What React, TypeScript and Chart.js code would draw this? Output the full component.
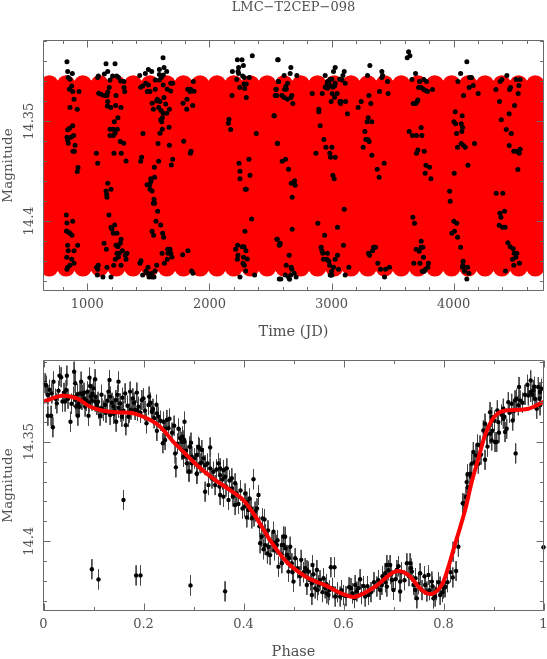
import React, { useEffect, useRef } from "react";
import { Chart, registerables } from "chart.js";

Chart.register(...registerables);

const chartTitle = "LMC\u2212T2CEP\u2212098";

// Upper panel: photometry against time, one pair of arrays per observing season
const season1Time = [833,839,877,844,858,872,853,880,932,891,858,918,880,855,839,888,866,833,839,844,899,883,894,924,918,828,833,880,828,844,858,874,839,921,844,891,831,872,891,858,839,833];
const season1Mag = [14.3201,14.3251,14.3261,14.3281,14.3289,14.3323,14.334,14.3351,14.3351,14.339,14.3431,14.344,14.3522,14.3535,14.3543,14.3572,14.358,14.358,14.3594,14.361,14.362,14.365,14.365,14.3732,14.3752,14.397,14.401,14.4002,14.405,14.4055,14.4062,14.4072,14.4122,14.4122,14.415,14.415,14.4182,14.4192,14.4212,14.4222,14.4232,14.4242];

const season2Time = [1153,1227,1167,1139,1090,1085,1186,1207,1240,1254,1273,1300,1300,1306,1180,1167,1093,1112,1139,1161,1235,1167,1164,1191,1232,1276,1251,1221,1186,1213,1246,1186,1213,1227,1270,1298,1074,1218,1278,1317,1085,1167,1153,1194,1158,1161,1177,1224,1194,1202,1213,1243,1276,1270,1137,1156,1235,1251,1287,1243,1262,1325,1311,1254,1229,1317,1216,1276,1161,1090,1076,1085,1082,1128,1194];
const season2Mag = [14.3211,14.3211,14.3251,14.3263,14.3273,14.3281,14.3293,14.3273,14.3273,14.3279,14.3298,14.3301,14.3331,14.3351,14.3331,14.3355,14.336,14.3365,14.3371,14.3371,14.3371,14.3401,14.3423,14.3431,14.3421,14.3431,14.3482,14.3502,14.354,14.354,14.354,14.3572,14.3572,14.356,14.3602,14.361,14.366,14.366,14.366,14.37,14.3711,14.3811,14.385,14.3841,14.3866,14.3881,14.397,14.402,14.4032,14.4042,14.4062,14.4062,14.4092,14.4112,14.4112,14.4142,14.4122,14.413,14.415,14.4162,14.4162,14.4162,14.4172,14.4181,14.4192,14.4192,14.4222,14.4222,14.4232,14.4222,14.4232,14.4242,14.4271,14.4281,14.4281];

const season3Time = [1620,1628,1590,1650,1527,1500,1475,1429,1590,1622,1606,1557,1590,1500,1478,1437,1453,1491,1513,1557,1622,1683,1699,1655,1683,1573,1568,1628,1595,1530,1642,1541,1584,1603,1672,1650,1622,1601,1614,1609,1669,1614,1595,1456,1579,1672,1445,1437,1584,1699,1688,1549,1551,1519,1489,1511,1521,1513,1530,1546,1551,1541,1576,1562,1601,1530,1543,1617,1625,1612,1658,1677,1661,1683,1693,1655,1631,1568,1440,1431,1497,1480,1491,1554,1527,1453,1505,1530,1546,1513];
const season3Mag = [14.3181,14.3231,14.3241,14.3251,14.3251,14.3241,14.3261,14.3271,14.3266,14.3268,14.3281,14.3293,14.3293,14.3318,14.3309,14.3329,14.3323,14.3351,14.3351,14.334,14.3318,14.3309,14.3309,14.334,14.3348,14.339,14.3398,14.3381,14.3401,14.341,14.3413,14.344,14.3431,14.3446,14.344,14.346,14.346,14.3493,14.3482,14.3502,14.353,14.354,14.356,14.3562,14.3612,14.362,14.3681,14.3701,14.3701,14.3691,14.3719,14.3731,14.3781,14.3789,14.3819,14.3819,14.3802,14.3841,14.385,14.3891,14.3911,14.3911,14.3952,14.4002,14.402,14.4052,14.4072,14.4062,14.4082,14.4162,14.4142,14.4142,14.4162,14.4162,14.4181,14.4192,14.4212,14.4222,14.42,14.4212,14.4232,14.4251,14.4261,14.4251,14.4264,14.4271,14.4281,14.4281,14.4281,14.4271];

const season4Time = [1868,1846,1822,1874,1841,1816,1784,1863,1814,1789,1849,1844,1855,1865,1781,1824];
const season4Mag = [14.3301,14.334,14.334,14.335,14.3351,14.339,14.341,14.3421,14.344,14.36,14.365,14.366,14.4251,14.4262,14.417,14.415];

const season5Time = [2160,2155,2174,2384,2556,2529,2185,2248,2229,2267,2278,2239,2188,2234,2239,2272,2286,2327,2223,2283,2302,2289,2302,2545,2551,2564,2559,2351,2242,2324,2250,2332,2250,2294,2302,2346,2291,2231,2215,2269,2283,2299,2234,2229,2280,2310,2275,2286,2297,2250,2370,2553,2572,2572];
const season5Mag = [14.349,14.351,14.3542,14.3562,14.361,14.3472,14.3371,14.3331,14.3192,14.3192,14.3221,14.3231,14.3251,14.3251,14.3261,14.3273,14.3281,14.3281,14.3291,14.3313,14.3313,14.3336,14.3381,14.334,14.3371,14.3301,14.3192,14.3171,14.3711,14.3691,14.3751,14.3771,14.3789,14.3841,14.3841,14.399,14.4052,14.4122,14.4142,14.413,14.413,14.415,14.4172,14.4192,14.4182,14.4191,14.4212,14.4222,14.4251,14.4281,14.4271,14.4092,14.412,14.4291];

const season6Time = [2563,2667,2661,2612,2566,2716,2640,2626,2615,2547,2629,2539,2593,2612,2640,2675,2667,2683,2530,2558,2596,2623,2648,2697,2670,2702,2678,2678,2555,2580,2574,2653,2629,2670,2675,2621,2694,2667,2648,2656,2585,2710];
const season6Mag = [14.3191,14.3231,14.3261,14.3271,14.3301,14.3271,14.3309,14.3326,14.334,14.334,14.334,14.3371,14.3371,14.3381,14.339,14.3371,14.3381,14.3411,14.3472,14.3612,14.3701,14.3691,14.3741,14.3799,14.3811,14.3821,14.3881,14.4042,14.4092,14.4112,14.4122,14.4172,14.4222,14.4232,14.4242,14.4271,14.4262,14.4271,14.4283,14.4293,14.4291,14.4281];

const season7Time = [2842,2924,2896,2896,2907,2937,2954,3003,2872,2986,2992,3030,3011,3022,3030,3016,3104,2948,3093,3066,3085,2989,3003,2967,2978,2962,2989,2948,2967,3030,3025,3011,3112,3005,3046,3025,2997,3068,3079,3115,3074,3131,2888,2943,3049,3104,3098,2915,2921,2929,2967,3049,2934,2962,2978,3030,2984,3016,3057,3142,3000,2995,2989,3003,3112];
const season7Mag = [14.3361,14.3361,14.344,14.3452,14.3522,14.3592,14.363,14.363,14.366,14.366,14.3681,14.3681,14.3771,14.3789,14.3231,14.3251,14.3251,14.3271,14.3271,14.3289,14.3293,14.3289,14.3289,14.3301,14.3309,14.3318,14.3323,14.3329,14.3334,14.3309,14.3323,14.3329,14.3309,14.3361,14.3361,14.338,14.3401,14.3401,14.3401,14.3401,14.3411,14.3462,14.4012,14.4072,14.4032,14.3941,14.4122,14.4132,14.415,14.4162,14.4162,14.4172,14.4192,14.4192,14.4202,14.4192,14.4222,14.4232,14.4242,14.4232,14.4252,14.4271,14.4271,14.4271,14.4271];

const season8Time = [3218,3243,3306,3322,3393,3464,3295,3314,3412,3418,3412,3459,3300,3292,3330,3273,3281,3298,3308,3259,3330,3374,3431,3390,3303,3311,3336,3344,3360,3379,3401,3442,3475,3434];
const season8Mag = [14.3431,14.3401,14.3371,14.3411,14.3351,14.3361,14.3271,14.3221,14.3251,14.3271,14.3281,14.3301,14.3482,14.3502,14.3502,14.3552,14.3592,14.3592,14.3602,14.363,14.3671,14.3741,14.3711,14.3781,14.4162,14.4172,14.415,14.4132,14.4132,14.4212,14.4242,14.4242,14.4232,14.4281];

const season9Time = [3631,3642,3620,3688,3658,3721,3756,3778,3713,3734,3753,3770,3786,3827,3669,3691,3707,3702,3734,3636,3663,3696,3740,3707,3759,3696,3773,3803,3767,3814,3666,3680,3734,3693,3718,3734,3748,3753,3674,3724,3794,3789,3770,3759,3743];
const season9Mag = [14.3151,14.3171,14.3181,14.3261,14.3291,14.3301,14.3291,14.3301,14.3331,14.3331,14.334,14.3346,14.3351,14.3341,14.3411,14.3411,14.3393,14.3401,14.3532,14.3552,14.3572,14.3572,14.3572,14.3644,14.365,14.366,14.3721,14.3731,14.3761,14.3789,14.3982,14.4012,14.4102,14.4142,14.4152,14.4132,14.4132,14.4182,14.4212,14.4212,14.4212,14.4232,14.4242,14.4252,14.4252];

const season10Time = [4108,4057,4130,4147,4035,4127,4160,4081,4201,4013,4070,4002,4016,4062,4073,4067,4024,4062,4081,4095,4171,4032,4117,4005,4002,4026,4007,3986,3967,3972,4032,4057,4078,4076,4073,4089,4114,4125,4108];
const season10Mag = [14.3201,14.3261,14.3281,14.3281,14.3301,14.3331,14.3321,14.3371,14.3361,14.3452,14.3472,14.3502,14.3512,14.3512,14.3532,14.3552,14.3562,14.3612,14.3622,14.363,14.3612,14.363,14.3721,14.3761,14.4002,14.4012,14.4052,14.4062,14.3851,14.3901,14.4082,14.4132,14.4202,14.4222,14.4232,14.4252,14.4232,14.4262,14.4291];

const season11Time = [4436,4395,4381,4346,4466,4458,4512,4545,4534,4529,4376,4499,4455,4390,4431,4472,4455,4493,4510,4545,4537,4526,4349,4403,4379,4417,4387,4373,4401,4422,4444,4463,4488,4496,4518,4510,4482,4539,4493,4425];
const season11Mag = [14.3271,14.3291,14.3301,14.3341,14.3331,14.3341,14.3291,14.3291,14.3321,14.3361,14.3401,14.3421,14.3462,14.3492,14.3542,14.3562,14.3622,14.365,14.365,14.364,14.366,14.3742,14.3861,14.3861,14.3962,14.3952,14.3982,14.4022,14.4032,14.4032,14.411,14.413,14.414,14.4162,14.4162,14.4182,14.4192,14.4212,14.4222,14.4251];

const timeValues = [season1Time,season2Time,season3Time,season4Time,season5Time,season6Time,season7Time,season8Time,season9Time,season10Time,season11Time].flat();
const timeMags = [season1Mag,season2Mag,season3Mag,season4Mag,season5Mag,season6Mag,season7Mag,season8Mag,season9Mag,season10Mag,season11Mag].flat();

// Upper panel: the model band, as it reads off the picture
const bandTimes = [689,826,964,1101,1238,1375,1513,1650,1787,1924,2062,2199,2336,2473,2611,2748,2885,3022,3160,3297,3434,3571,3708,3846,3983,4120,4257,4395,4532,4669];
const bandBrightMag = 14.3314;
const bandFaintMag = 14.4234;

// Lower panel: folded photometry, by phase range
const foldAPhase = [.0053,.0033,.0087,.0087,.0153,.0187,.02,.0167,.0267,.032,.0353,.038,.0433,.0467,.0453,.054,.0613,.0633,.0687,.0653,.0733,.0753,.0767,.0833,.088,.09,.092,.0933,.0947,.1,.1033,.1033,.1067,.1133,.1167,.13,.132,.1333,.1333,.14,.1453,.1447,.15,.1533,.1567,.1633,.1647,.17,.1733,.1787,.1833,.1867,.1967,.2,.206,.21,.2113,.2167,.2213,.2267,.2267,.23,.24,.2387,.2413,.2467,.25,.2433,.2613,.2633,.2647,.2733,.2767,.282,.2813,.2867,.292,.2907,.2967,.3067,.312,.06,.068,.07,.078,.082,.086,.097,.11,.12,.125,.14,.15,.16,.175,.19];
const foldAMag = [14.3219,14.3207,14.3266,14.337,14.337,14.3428,14.3199,14.3258,14.3308,14.3169,14.3177,14.3299,14.3299,14.3169,14.3241,14.34,14.3149,14.3207,14.337,14.3324,14.3258,14.3199,14.3291,14.3324,14.3249,14.337,14.3179,14.3221,14.3274,14.3233,14.3187,14.3299,14.3316,14.337,14.3333,14.3249,14.3191,14.3274,14.3366,14.3324,14.34,14.3291,14.3199,14.3308,14.3375,14.3258,14.3418,14.3375,14.3249,14.3283,14.3341,14.3254,14.3291,14.3283,14.3408,14.3316,14.3274,14.335,14.3383,14.3358,14.3446,14.3375,14.34,14.3508,14.3441,14.3391,14.3433,14.3492,14.342,14.3559,14.3629,14.3483,14.3542,14.34,14.35,14.3575,14.3525,14.365,14.3609,14.3662,14.3533,14.3275,14.3262,14.331,14.3265,14.3285,14.3295,14.3295,14.3335,14.3345,14.3355,14.336,14.333,14.3345,14.334,14.3325];

const foldBPhase = [.2766,.2813,.2933,.28,.2866,.292,.2966,.3066,.31,.3166,.3133,.32,.3233,.3066,.3333,.3233,.33,.3333,.34,.3433,.35,.3533,.3533,.36,.3633,.3666,.36,.3533,.37,.3766,.3766,.3833,.3866,.3833,.39,.4033,.4066,.42,.43,.41,.4066,.4233,.4166,.442,.4366,.4333,.4433,.45,.4533,.46,.4633,.4833,.48,.4866,.4479,.44];
const foldBMag = [14.3501,14.3492,14.3526,14.3576,14.3609,14.3651,14.3576,14.3567,14.3526,14.3542,14.3609,14.3584,14.3618,14.3659,14.3529,14.3751,14.3718,14.3634,14.3651,14.3718,14.3609,14.3668,14.3634,14.3643,14.3676,14.3634,14.3776,14.3768,14.3793,14.3684,14.3735,14.3709,14.376,14.3818,14.3813,14.376,14.3801,14.3689,14.3768,14.3843,14.388,14.3851,14.3885,14.389,14.3977,14.401,14.4019,14.4027,14.4069,14.3952,14.401,14.3977,14.4019,14.4069,14.4061,14.404];

const foldCPhase = [.48,.4667,.4767,.4934,.4867,.47,.4767,.49,.4967,.5034,.5,.5154,.5234,.53,.538,.5267,.5367,.5367,.5467,.5434,.55,.56,.5634,.5667,.57,.5747,.582,.5834,.5934,.6,.6113,.618,.6234,.6267,.6333,.64,.6434,.65,.6667,.6733,.6867,.6933,.6833,.6967,.6767,.6867,.7,.7067,.7133,.7133,.7267,.7333,.7367,.74,.7433,.7467,.7533,.7633,.77,.7767,.7667,.7833,.7933,.8,.8033,.78,.7933,.8193,.8298,.8252,.8186,.8385,.8031];
const foldCMag = [14.3976,14.4018,14.4018,14.4027,14.4068,14.4127,14.411,14.4152,14.411,14.4085,14.4202,14.4093,14.4135,14.4152,14.4119,14.4219,14.421,14.4269,14.4144,14.4236,14.4219,14.4185,14.4236,14.4261,14.4269,14.413,14.413,14.4277,14.4277,14.4269,14.423,14.4261,14.4219,14.4252,14.419,14.4224,14.4277,14.4269,14.4227,14.4244,14.4119,14.4119,14.416,14.4194,14.4219,14.4227,14.4244,14.4144,14.4202,14.4252,14.411,14.411,14.4152,14.4219,14.4244,14.4286,14.416,14.4219,14.4169,14.4202,14.4252,14.4277,14.4269,14.4236,14.4227,14.4286,14.4227,14.4052,14.4027,14.4149,14.4181,14.3809,14.4231];

const foldDPhase = [.8411,.8451,.8484,.8464,.8531,.8564,.8597,.8651,.8697,.8731,.8831,.8797,.8831,.8931,.8964,.8931,.8964,.9031,.9064,.9077,.9097,.9197,.9197,.9231,.9264,.9297,.9384,.9364,.9431,.9497,.9531,.9511,.9697,.9744,.9744,.9797,.9831,.9864,.9897,.9931,.9931];
const foldDMag = [14.3811,14.3778,14.3728,14.3703,14.3661,14.3611,14.3552,14.3569,14.3611,14.3519,14.3591,14.3444,14.341,14.3352,14.3377,14.346,14.3494,14.3502,14.3502,14.3343,14.3402,14.3335,14.3385,14.3452,14.3435,14.3302,14.3394,14.331,14.3293,14.3318,14.3293,14.3226,14.3268,14.3193,14.3251,14.3243,14.3285,14.3335,14.3226,14.3251,14.3318];

const foldEPhase = [.012,.024,.03,.041,.049,.056,.064,.072,.081,.091,.098,.104,.109,.116,.123,.128,.137,.142,.148,.155,.158,.168,.172,.181,.188,.194,.203,.214,.219,.226,.234,.244,.252,.257,.268,.27,.278,.285,.295];
const foldEMag = [14.324,14.3285,14.3245,14.3255,14.3285,14.331,14.329,14.3325,14.3255,14.3305,14.326,14.3275,14.33,14.3265,14.3315,14.3295,14.3305,14.3345,14.3265,14.335,14.328,14.332,14.3355,14.3305,14.3345,14.3355,14.3345,14.3305,14.3335,14.3315,14.3395,14.3435,14.3385,14.3455,14.351,14.3435,14.3475,14.3545,14.3505];

const foldFPhase = [.302,.316,.328,.337,.346,.352,.358,.365,.372,.379,.394,.398,.402,.412,.415,.421,.427,.432,.438,.444,.449,.457,.462,.468,.475,.484,.491,.498,.508,.513,.52,.527,.534,.54,.548,.553,.558,.566,.572,.578,.588,.596];
const foldFMag = [14.3585,14.3605,14.361,14.3685,14.364,14.3725,14.369,14.3725,14.3695,14.3775,14.3745,14.3835,14.3825,14.3785,14.3835,14.3875,14.3835,14.3925,14.3885,14.3965,14.3945,14.4005,14.4045,14.3995,14.4065,14.4035,14.4085,14.4155,14.4135,14.4175,14.4155,14.4145,14.4195,14.4165,14.4245,14.4195,14.4255,14.4215,14.4245,14.4235,14.4255,14.4245];

const foldGPhase = [.605,.615,.622,.63,.636,.648,.655,.661,.67,.678,.684,.69,.695,.704,.71,.716,.722,.731,.735,.744,.75,.757,.762,.772,.778,.786,.79,.798,.808,.814];
const foldGMag = [14.4275,14.4235,14.4285,14.4235,14.4265,14.4225,14.4255,14.4205,14.4195,14.4175,14.4205,14.4145,14.4165,14.419,14.4125,14.4155,14.4195,14.4175,14.4135,14.4185,14.4215,14.4245,14.4175,14.4245,14.4225,14.4245,14.4205,14.4255,14.4205,14.4155];

const foldHPhase = [.848,.855,.862,.868,.875,.886,.888,.898,.902,.911,.916,.922,.932,.941,.946,.958,.963,.968,.978,.982,.992,.996];
const foldHMag = [14.3665,14.3675,14.3605,14.3515,14.3565,14.3465,14.3525,14.3445,14.3395,14.3455,14.3365,14.3375,14.3355,14.3345,14.3285,14.3305,14.3265,14.3215,14.3265,14.3225,14.3285,14.3235];

const outlierPhase = [.0967,.11,.1853,.194,.294,.3632,.16,.9443,1];
const outlierMag = [14.414,14.4191,14.4171,14.4171,14.4221,14.4251,14.3793,14.3559,14.403];

const foldPhases = [foldAPhase,foldBPhase,foldCPhase,foldDPhase,foldEPhase,foldFPhase,foldGPhase,foldHPhase,outlierPhase].flat();
const foldMags = [foldAMag,foldBMag,foldCMag,foldDMag,foldEMag,foldFMag,foldGMag,foldHMag,outlierMag].flat();
const magErrorHalf = 0.005;

// Lower panel: fitted curve
const curvePhase = [0,.0368,.0668,.0934,.1194,.1467,.1793,.2067,.2333,.2593,.273,.3064,.339,.373,.3996,.4264,.453,.4796,.4964,.529,.563,.5964,.623,.663,.703,.729,.7564,.7764,.7964,.809,.8196,.843,.8564,.8696,.883,.8964,.9096,.9264,.953,.9696,.9864,1];
const curveMag = [14.33,14.327,14.3283,14.3325,14.3345,14.3353,14.3358,14.3383,14.3425,14.35,14.3534,14.3617,14.3684,14.3743,14.3793,14.3885,14.3994,14.4085,14.4127,14.4184,14.422,14.4262,14.4278,14.4228,14.4152,14.4168,14.4244,14.4264,14.4219,14.4134,14.4044,14.3845,14.3702,14.3586,14.3469,14.3394,14.3357,14.3343,14.334,14.3335,14.3318,14.33];

const FONT = "'DejaVu Serif'";
const TEXT = "#505050";
const FRAME = "#6a6a6a";

const isMultiple = (v: number, step: number) => Math.abs(v / step - Math.round(v / step)) < 1e-6;

const boxTicks = (xMajor: number, yMajor: number) => ({
  id: "boxTicks",
  afterDatasetsDraw(chart: any) {
    const { ctx, chartArea: a, scales } = chart;
    ctx.save();
    ctx.strokeStyle = FRAME;
    ctx.lineWidth = 1;
    ctx.beginPath();
    ctx.rect(a.left, a.top, a.right - a.left, a.bottom - a.top);
    for (const t of scales.x.ticks) {
      const p = Math.round(scales.x.getPixelForValue(t.value)) + 0.5;
      const l = isMultiple(t.value, xMajor) ? 7 : 3.5;
      ctx.moveTo(p, a.top); ctx.lineTo(p, a.top + l);
      ctx.moveTo(p, a.bottom); ctx.lineTo(p, a.bottom - l);
    }
    for (const t of scales.y.ticks) {
      const p = Math.round(scales.y.getPixelForValue(t.value)) + 0.5;
      const l = isMultiple(t.value, yMajor) ? 7 : 3.5;
      ctx.moveTo(a.left, p); ctx.lineTo(a.left + l, p);
      ctx.moveTo(a.right, p); ctx.lineTo(a.right - l, p);
    }
    ctx.stroke();
    ctx.restore();
  },
});

const axes = (xMin: number, xMax: number, xStep: number, xMajor: number, xTitle: string, yMin: number, yMax: number, xFmt: (v: number) => string) => ({
  x: {
    type: "linear", min: xMin, max: xMax,
    afterFit: (s: any) => { s.height = 50.5; },
    grid: { display: false }, border: { display: false },
    ticks: {
      stepSize: xStep, includeBounds: false, autoSkip: false, maxRotation: 0, padding: -2,
      color: TEXT, font: { family: FONT, size: 13 },
      callback: (v: number) => (isMultiple(v, xMajor) ? xFmt(v) : ""),
    },
    title: { display: true, text: xTitle, color: TEXT, padding: 0, font: { family: FONT, size: 14.5 } },
  },
  y: {
    type: "linear", min: yMin, max: yMax, reverse: true,
    afterFit: (s: any) => { s.width = 43.5; },
    grid: { display: false }, border: { display: false },
    ticks: {
      stepSize: 0.01, includeBounds: false, autoSkip: false, minRotation: 90, maxRotation: 90, crossAlign: "center", padding: -13,
      color: TEXT, font: { family: FONT, size: 13 },
      callback: (v: number) => (isMultiple(v, 0.05) ? String(parseFloat(v.toFixed(2))) : ""),
    },
    title: { display: true, text: "Magnitude", color: TEXT, padding: 0, font: { family: FONT, size: 13.5 } },
  },
});

export default function App() {
  const topRef = useRef<HTMLCanvasElement>(null);
  const bottomRef = useRef<HTMLCanvasElement>(null);

  useEffect(() => {
    const bandPoints: any[] = [];
    bandTimes.forEach((t) => {
      bandPoints.push({ x: t, y: bandBrightMag }, { x: t, y: bandFaintMag }, { x: t, y: null });
    });
    const errorPoints: any[] = [];
    foldPhases.forEach((p, i) => {
      errorPoints.push({ x: p, y: foldMags[i] - magErrorHalf }, { x: p, y: foldMags[i] + magErrorHalf }, { x: p, y: null });
    });

    const top = new Chart(topRef.current as HTMLCanvasElement, {
      type: "scatter",
      data: {
        datasets: [
          {
            label: "Model", data: bandPoints, showLine: true, spanGaps: false, order: 2,
            borderColor: "#ff0000", borderWidth: 18, borderCapStyle: "round", borderJoinStyle: "round",
            pointRadius: 0, clip: { left: 0, top: 0, right: 0, bottom: 0 },
          },
          {
            label: "Observations", data: timeValues.map((t, i) => ({ x: t, y: timeMags[i] })), order: 1,
            backgroundColor: "#000", pointRadius: 2.5, pointBorderWidth: 0,
          },
        ],
      },
      options: {
        animation: false, responsive: false, events: [],
        layout: { autoPadding: false, padding: { top: 0, left: 0, right: 3.5, bottom: 0 } },
        plugins: {
          legend: { display: false }, tooltip: { enabled: false },
          title: { display: true, fullSize: false, text: chartTitle, color: TEXT, padding: { top: 0, bottom: 24.9 }, font: { family: FONT, size: 13, weight: "normal" } },
        },
        scales: axes(641, 4736, 200, 1000, "Time (JD)", 14.3095, 14.4349, (v) => String(v)),
      } as any,
      plugins: [boxTicks(1000, 0.05)],
    } as any);

    const bottom = new Chart(bottomRef.current as HTMLCanvasElement, {
      type: "scatter",
      data: {
        datasets: [
          {
            label: "Errors", data: errorPoints, showLine: true, spanGaps: false, order: 3,
            borderColor: "#444", borderWidth: 1, pointRadius: 0,
          },
          {
            label: "Observations", data: foldPhases.map((p, i) => ({ x: p, y: foldMags[i] })), order: 2, clip: false,
            backgroundColor: "#000", pointRadius: 2.2, pointBorderWidth: 0,
          },
          {
            label: "Fit", data: curvePhase.map((p, i) => ({ x: p, y: curveMag[i] })), showLine: true, order: 1,
            borderColor: "#ff0000", borderWidth: 4, pointRadius: 0, tension: 0.35,
          },
        ],
      },
      options: {
        animation: false, responsive: false, events: [],
        layout: { autoPadding: false, padding: { top: 19.5, left: 0, right: 3.5, bottom: 0 } },
        plugins: { legend: { display: false }, tooltip: { enabled: false } },
        scales: axes(0, 1, 0.1, 0.2, "Phase", 14.3093, 14.4347, (v) => String(parseFloat(v.toFixed(1)))),
      } as any,
      plugins: [boxTicks(0.2, 0.05)],
    } as any);

    return () => { top.destroy(); bottom.destroy(); };
  }, []);

  return (
    <div style={{ position: "fixed", left: 0, top: 0, width: 547, height: 659, overflow: "hidden", background: "#fff" }}>
      <canvas ref={topRef} width={547} height={341} style={{ position: "absolute", left: 0, top: 0, width: 547, height: 341 }} />
      <canvas ref={bottomRef} width={547} height={320} style={{ position: "absolute", left: 0, top: 341, width: 547, height: 320 }} />
    </div>
  );
}
